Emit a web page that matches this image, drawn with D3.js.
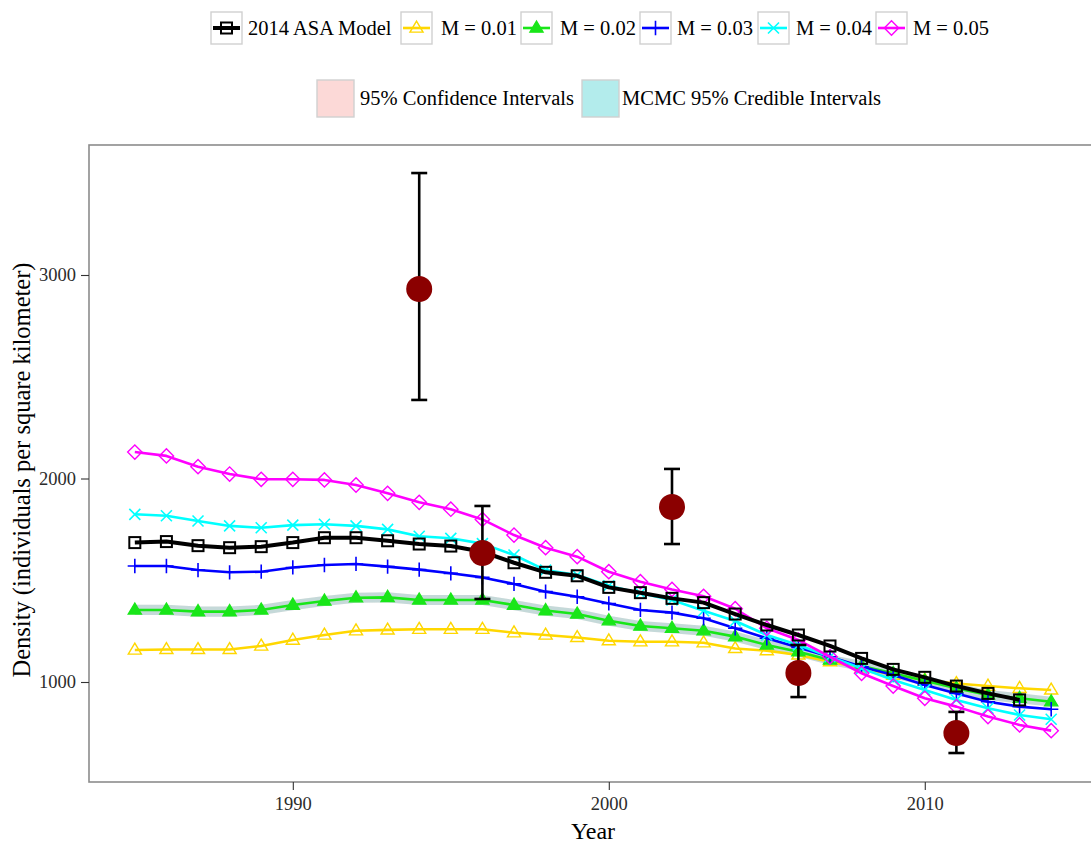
<!DOCTYPE html>
<html>
<head>
<meta charset="utf-8">
<script src="https://cdn.jsdelivr.net/npm/d3@7"></script>
<style>
  html, body { margin: 0; padding: 0; background: #fff; }
  svg { display: block; }
  svg text { font-family: "Liberation Serif", "Times New Roman", serif; }
</style>
</head>
<body>
<svg id="chart" width="1091" height="846"></svg>
<script>
// Model trajectories of density by year
const years = [1985,1986,1987,1988,1989,1990,1991,1992,1993,1994,1995,1996,1997,1998,1999,
               2000,2001,2002,2003,2004,2005,2006,2007,2008,2009,2010,2011,2012,2013,2014];

const asaModel = [1685,1690,1670,1660,1665,1685,1709,1709,1694,1678,
                  1668,1640,1586,1539,1522,1465,1439,1411,1390,1334,
                  1280,1231,1177,1116,1062,1023,980,944,912];
const m01 = [1157,1160,1160,1160,1177,1206,1231,1252,1256,1259,
             1259,1259,1242,1231,1219,1203,1198,1198,1193,1165,
             1154,1133,1100,1069,1034,1010,993,980,969,961];
const m02 = [1354,1354,1346,1346,1354,1378,1398,1414,1416,1403,
             1403,1403,1378,1351,1334,1301,1275,1264,1252,1223,
             1182,1149,1108,1079,1043,1006,969,936,920,903];
const m03 = [1570,1570,1550,1539,1542,1563,1575,1580,1567,1552,
             1534,1514,1482,1444,1419,1386,1354,1341,1313,1264,
             1215,1170,1124,1075,1034,985,944,903,879,866];
const m04 = [1824,1817,1791,1767,1758,1771,1775,1767,1750,1716,
             1706,1680,1624,1550,1526,1473,1436,1403,1350,1300,
             1231,1182,1124,1067,1010,961,912,871,838,817];
const m05 = [2130,2111,2058,2022,1996,1996,1993,1968,1927,1883,
             1849,1799,1722,1660,1616,1542,1493,1455,1421,1360,
             1264,1206,1124,1043,980,920,879,830,789,761];

// Interval half-width around the M = 0.02 trajectory
const ribbonHalf = 25;

// Survey estimates with 95% intervals
const surveyYears = [1994, 1996, 2002, 2006, 2011];
const surveyEst = [2931, 1634, 1860, 1044, 749];
const surveyLo  = [2386, 1408, 1678, 926, 651];
const surveyHi  = [3501, 1865, 2047, 1182, 853];

const xTicks = [1990, 2000, 2010];
const yTicks = [1000, 2000, 3000];

const seriesNames = ["2014 ASA Model", "M = 0.01", "M = 0.02", "M = 0.03", "M = 0.04", "M = 0.05"];
const intervalNames = ["95% Confidence Intervals", "MCMC 95% Credible Intervals"];

const series = [
  { name: seriesNames[1], values: m01, color: "#FFD700", shape: "triangleOpen", width: 2.6 },
  { name: seriesNames[2], values: m02, color: "#19E619", shape: "triangleFilled", width: 2.6 },
  { name: seriesNames[3], values: m03, color: "#0000FF", shape: "plus", width: 2.6 },
  { name: seriesNames[4], values: m04, color: "#00FFFF", shape: "cross", width: 2.6 },
  { name: seriesNames[5], values: m05, color: "#FF00FF", shape: "diamond", width: 2.6 },
  { name: seriesNames[0], values: asaModel, color: "#000000", shape: "square", width: 4 }
];

const svg = d3.select("#chart");
const panel = { left: 89, top: 145, right: 1097, bottom: 782 };

const x = d3.scaleLinear().domain([1983.55, 2015.45]).range([panel.left, panel.right]);
const y = d3.scaleLinear().domain([508.6, 3638.8]).range([panel.bottom, panel.top]);

// Panel background
svg.append("rect")
  .attr("x", panel.left).attr("y", panel.top)
  .attr("width", panel.right - panel.left).attr("height", panel.bottom - panel.top)
  .attr("fill", "#fff");

const plot = svg.append("g");

// Interval ribbons
const ribbon = d3.area()
  .x((d, i) => x(years[i]))
  .y0(d => y(d - ribbonHalf))
  .y1(d => y(d + ribbonHalf));
plot.append("path").datum(m02).attr("d", ribbon)
  .attr("fill", "#F8766D").attr("fill-opacity", 0.22);
plot.append("path").datum(m02).attr("d", ribbon)
  .attr("fill", "#00BFC4").attr("fill-opacity", 0.22);

// Marker glyphs
function drawMarker(g, shape, color, cx, cy, s) {
  const h = s / 2;
  if (shape === "square") {
    g.append("rect").attr("x", cx - h).attr("y", cy - h).attr("width", s).attr("height", s)
      .attr("fill", "none").attr("stroke", color).attr("stroke-width", 2);
  } else if (shape === "triangleOpen" || shape === "triangleFilled") {
    const r = h * 1.25;
    const pts = [[cx, cy - r], [cx + r * 0.95, cy + r * 0.6], [cx - r * 0.95, cy + r * 0.6]];
    g.append("polygon").attr("points", pts.map(p => p.join(",")).join(" "))
      .attr("fill", shape === "triangleFilled" ? color : "none")
      .attr("stroke", color).attr("stroke-width", 1.4);
  } else if (shape === "plus") {
    const r = h * 1.3;
    g.append("path").attr("d", `M${cx - r},${cy}H${cx + r}M${cx},${cy - r}V${cy + r}`)
      .attr("stroke", color).attr("stroke-width", 1.6).attr("fill", "none");
  } else if (shape === "cross") {
    const r = h * 1.0;
    g.append("path").attr("d", `M${cx - r},${cy - r}L${cx + r},${cy + r}M${cx - r},${cy + r}L${cx + r},${cy - r}`)
      .attr("stroke", color).attr("stroke-width", 1.6).attr("fill", "none");
  } else if (shape === "diamond") {
    const r = h * 1.3;
    g.append("polygon").attr("points", `${cx},${cy - r} ${cx + r},${cy} ${cx},${cy + r} ${cx - r},${cy}`)
      .attr("fill", "none").attr("stroke", color).attr("stroke-width", 1.4);
  }
}

const line = d3.line().x((d, i) => x(years[i])).y(d => y(d));

series.forEach(s => {
  const g = plot.append("g");
  g.append("path").datum(s.values).attr("d", line)
    .attr("fill", "none").attr("stroke", s.color).attr("stroke-width", s.width)
    .attr("stroke-linejoin", "round");
  s.values.forEach((v, i) => drawMarker(g, s.shape, s.color, x(years[i]), y(v), 11));
});

// Survey estimates with error bars
const obs = plot.append("g");
surveyYears.forEach((yr, i) => {
  const cx = x(yr);
  obs.append("line").attr("x1", cx).attr("x2", cx)
    .attr("y1", y(surveyLo[i])).attr("y2", y(surveyHi[i]))
    .attr("stroke", "#000").attr("stroke-width", 2.6);
  [surveyLo[i], surveyHi[i]].forEach(v => {
    obs.append("line").attr("x1", cx - 8).attr("x2", cx + 8)
      .attr("y1", y(v)).attr("y2", y(v))
      .attr("stroke", "#000").attr("stroke-width", 2.6);
  });
  obs.append("circle").attr("cx", cx).attr("cy", y(surveyEst[i])).attr("r", 13)
    .attr("fill", "#8B0000");
});

// Panel border
svg.append("rect")
  .attr("x", panel.left).attr("y", panel.top)
  .attr("width", panel.right - panel.left).attr("height", panel.bottom - panel.top)
  .attr("fill", "none").attr("stroke", "#8c8c8c").attr("stroke-width", 1.6);

// Axes
const xAxis = svg.append("g").attr("transform", `translate(0,${panel.bottom})`)
  .call(d3.axisBottom(x).tickValues(xTicks).tickFormat(d3.format("d")).tickSize(8).tickPadding(7));
const yAxis = svg.append("g").attr("transform", `translate(${panel.left},0)`)
  .call(d3.axisLeft(y).tickValues(yTicks).tickFormat(d3.format("d")).tickSize(8).tickPadding(5));
[xAxis, yAxis].forEach(a => {
  a.select(".domain").remove();
  a.selectAll(".tick line").attr("stroke", "#333").attr("stroke-width", 1.1);
  a.selectAll(".tick text").attr("fill", "#2b2b2b")
    .attr("font-family", '"Liberation Serif", serif').attr("font-size", 18.5);
});

// Axis titles
svg.append("text").attr("x", (panel.left + panel.right) / 2).attr("y", 839)
  .attr("text-anchor", "middle").attr("font-size", 24).attr("fill", "#000").text("Year");
svg.append("text")
  .attr("transform", `translate(30,470) rotate(-90)`)
  .attr("text-anchor", "middle").attr("font-size", 24.5).attr("fill", "#000")
  .text("Density (individuals per square kilometer)");

// Legend row 1: trajectories
const legendKeys = [
  { s: series[5], key: 211, label: 248 },
  { s: series[0], key: 401, label: 441 },
  { s: series[1], key: 521, label: 560 },
  { s: series[2], key: 640, label: 677 },
  { s: series[3], key: 758, label: 796 },
  { s: series[4], key: 876, label: 913 }
];
const leg = svg.append("g");
const ly = 28;
legendKeys.forEach(k => {
  leg.append("rect").attr("x", k.key).attr("y", ly - 16).attr("width", 31).attr("height", 32)
    .attr("fill", "#fff").attr("stroke", "#d0d0d0").attr("stroke-width", 1.4);
  const gk = leg.append("g");
  gk.append("line").attr("x1", k.key + 2).attr("x2", k.key + 29).attr("y1", ly).attr("y2", ly)
    .attr("stroke", k.s.color).attr("stroke-width", k.s.width);
  drawMarker(gk, k.s.shape, k.s.color, k.key + 15.5, ly, 11);
  leg.append("text").attr("x", k.label).attr("y", ly + 7).attr("font-size", 20.5)
    .attr("fill", "#000").text(k.s.name);
});

// Legend row 2: interval fills
const ly2 = 98;
const fills = [
  { label: intervalNames[0], key: 317, text: 360, fill: "#FCD9D7" },
  { label: intervalNames[1], key: 582, text: 622, fill: "#B3ECEC" }
];
fills.forEach(f => {
  leg.append("rect").attr("x", f.key).attr("y", ly2 - 18).attr("width", 37).attr("height", 37)
    .attr("fill", f.fill).attr("stroke", "#d0d0d0").attr("stroke-width", 1.4);
  leg.append("text").attr("x", f.text).attr("y", ly2 + 7).attr("font-size", 20.5)
    .attr("fill", "#000").text(f.label);
});
</script>
</body>
</html>
